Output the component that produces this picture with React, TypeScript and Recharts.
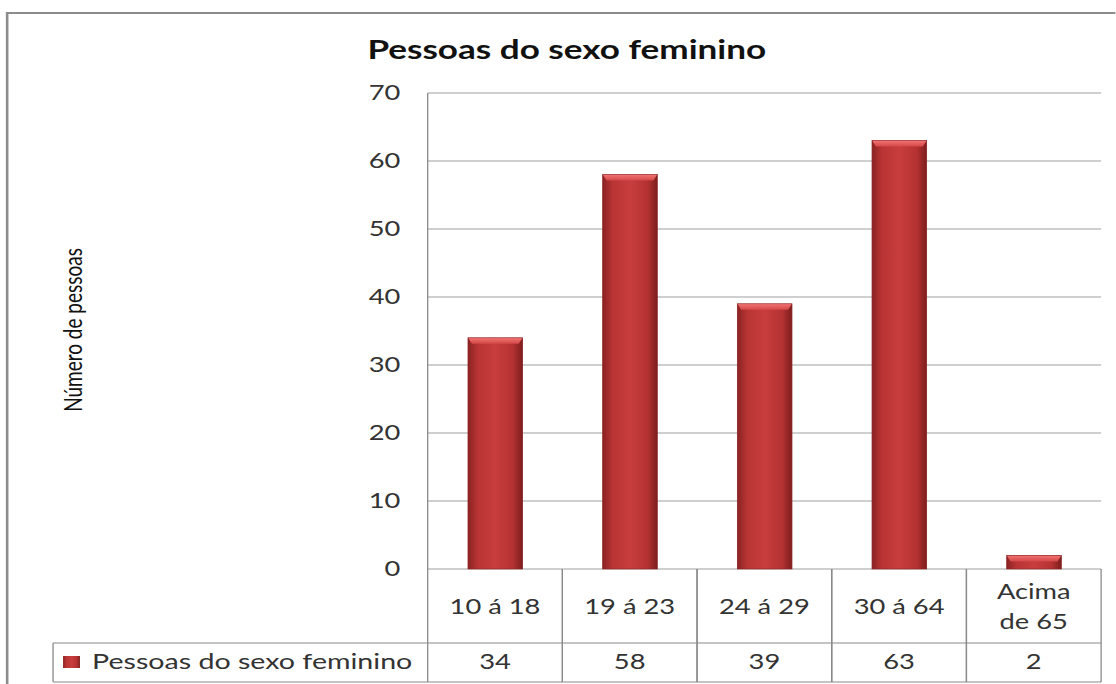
import { Bar, BarChart, CartesianGrid, Customized, XAxis, YAxis } from "recharts";

// Age groups, count of women in each, and axis ticks
const categories = ["10 á 18", "19 á 23", "24 á 29", "30 á 64", "Acima\nde 65"];
const values = [34, 58, 39, 63, 2];
const yTicks = [0, 10, 20, 30, 40, 50, 60, 70];
const seriesName = "Pessoas do sexo feminino";
const chartTitle = "Pessoas do sexo feminino";
const yTitle = "Número de pessoas";

// the whole chart is drawn narrow and stretched sideways
const S = 1.3;
const W = 858;
const H = 684;
const X_AXIS_H = 115;
const MARGIN = { top: 93, right: 11, bottom: 0, left: 269 };
const Y_AXIS_W = 60;
const PLOT_L = MARGIN.left + Y_AXIS_W;
const PLOT_R = W - MARGIN.right;
const CELL_W = (PLOT_R - PLOT_L) / categories.length;
const PLOT_B = H - X_AXIS_H;
const ROW1_B = 643;
const ROW2_B = 682;
const LEGEND_L = 40.8;

const FONT = "Lato, 'Open Sans', sans-serif";
const GRID = "#bfbfbf";
const LINE = "#8a8a8a";
const TEXT = "#333";

const data = categories.map((c, i) => ({ name: c, value: values[i] }));

function BevelBar(props: any) {
  const { x, y, width, height } = props;
  if (!height || height <= 0) return null;
  const cap = Math.min(6, height);
  const inset = Math.min(3, width / 4);
  return (
    <g>
      <rect x={x} y={y} width={width} height={height} fill="url(#barBody)" />
      <path
        d={`M${x},${y} H${x + width} L${x + width - inset},${y + cap} H${x + inset} Z`}
        fill="url(#barCap)"
      />
      <rect x={x} y={y} width={width} height={height} fill="none" stroke="#8c2323" strokeWidth={0.6} />
    </g>
  );
}

function TableTick(props: any) {
  const { x, payload, index } = props;
  const i = payload?.index ?? index;
  const left = x - CELL_W / 2;
  const right = x + CELL_W / 2;
  const lines = String(payload.value).split("\n");
  const midY = (PLOT_B + ROW1_B) / 2 + 8;
  const lineH = 30;
  return (
    <g>
      <line x1={left} y1={PLOT_B} x2={left} y2={ROW2_B} stroke={LINE} strokeWidth={1} />
      <line x1={right} y1={PLOT_B} x2={right} y2={ROW2_B} stroke={LINE} strokeWidth={1} />
      {lines.map((ln, k) => (
        <text
          key={k}
          x={x}
          y={midY + (k - (lines.length - 1) / 2) * lineH}
          textAnchor="middle"
          fontFamily={FONT}
          fontSize={21}
          fill={TEXT}
        >
          {ln}
        </text>
      ))}
      <text x={x} y={(ROW1_B + ROW2_B) / 2 + 7} textAnchor="middle" fontFamily={FONT} fontSize={21} fill={TEXT}>
        {values[i]}
      </text>
    </g>
  );
}

function Frame() {
  return (
    <g>
      <rect x={5.5} y={13} width={W + 20} height={H + 20} fill="none" stroke="#8c8c8c" strokeWidth={2} />
      <text x={436} y={59} textAnchor="middle" fontFamily={FONT} fontWeight="bold" fontSize={27} fill="#111">
        {chartTitle}
      </text>
      <text
        x={0}
        y={0}
        transform={`translate(63 ${330}) rotate(-90)`}
        textAnchor="middle"
        fontFamily={FONT}
        fontSize={19}
        fill="#111"
      >
        {yTitle}
      </text>
      <line x1={LEGEND_L} y1={ROW1_B} x2={PLOT_R} y2={ROW1_B} stroke={LINE} strokeWidth={1} />
      <line x1={LEGEND_L} y1={ROW2_B} x2={PLOT_R} y2={ROW2_B} stroke={LINE} strokeWidth={1} />
      <line x1={LEGEND_L} y1={ROW1_B} x2={LEGEND_L} y2={ROW2_B} stroke={LINE} strokeWidth={1} />
      <rect x={48.5} y={656} width={13} height={12} fill="url(#barBody)" />
      <text x={70.8} y={(ROW1_B + ROW2_B) / 2 + 7} fontFamily={FONT} fontSize={22} fill={TEXT}>
        {seriesName}
      </text>
    </g>
  );
}

export default function App() {
  return (
    <div
      style={{
        position: "absolute",
        left: 0,
        top: 0,
        width: W,
        height: H,
        background: "#fff",
        transform: `scaleX(${S})`,
        transformOrigin: "0 0",
      }}
    >
      <BarChart width={W} height={H} data={data} margin={MARGIN} barSize={42}>
        <defs>
          <linearGradient id="barBody" x1="0" y1="0" x2="1" y2="0">
            <stop offset="0%" stopColor="#8a2222" />
            <stop offset="18%" stopColor="#b93434" />
            <stop offset="50%" stopColor="#c83d3d" />
            <stop offset="82%" stopColor="#b53232" />
            <stop offset="100%" stopColor="#7d1d1d" />
          </linearGradient>
          <linearGradient id="barCap" x1="0" y1="0" x2="0" y2="1">
            <stop offset="0%" stopColor="#f27474" />
            <stop offset="100%" stopColor="#d44747" />
          </linearGradient>
        </defs>
        <CartesianGrid vertical={false} stroke={GRID} strokeWidth={1.5} />
        <XAxis
          dataKey="name"
          axisLine={false}
          tickLine={false}
          interval={0}
          tick={<TableTick />}
          height={X_AXIS_H}
        />
        <YAxis
          domain={[0, 70]}
          ticks={yTicks}
          width={Y_AXIS_W}
          axisLine={{ stroke: LINE }}
          tickLine={false}
          tickSize={0}
          tickMargin={21}
          tick={{ fontFamily: FONT, fontSize: 21, fill: TEXT }}
        />
        <Bar dataKey="value" name={seriesName} shape={<BevelBar />} isAnimationActive={false} />
        <Customized component={<Frame />} />
      </BarChart>
    </div>
  );
}
